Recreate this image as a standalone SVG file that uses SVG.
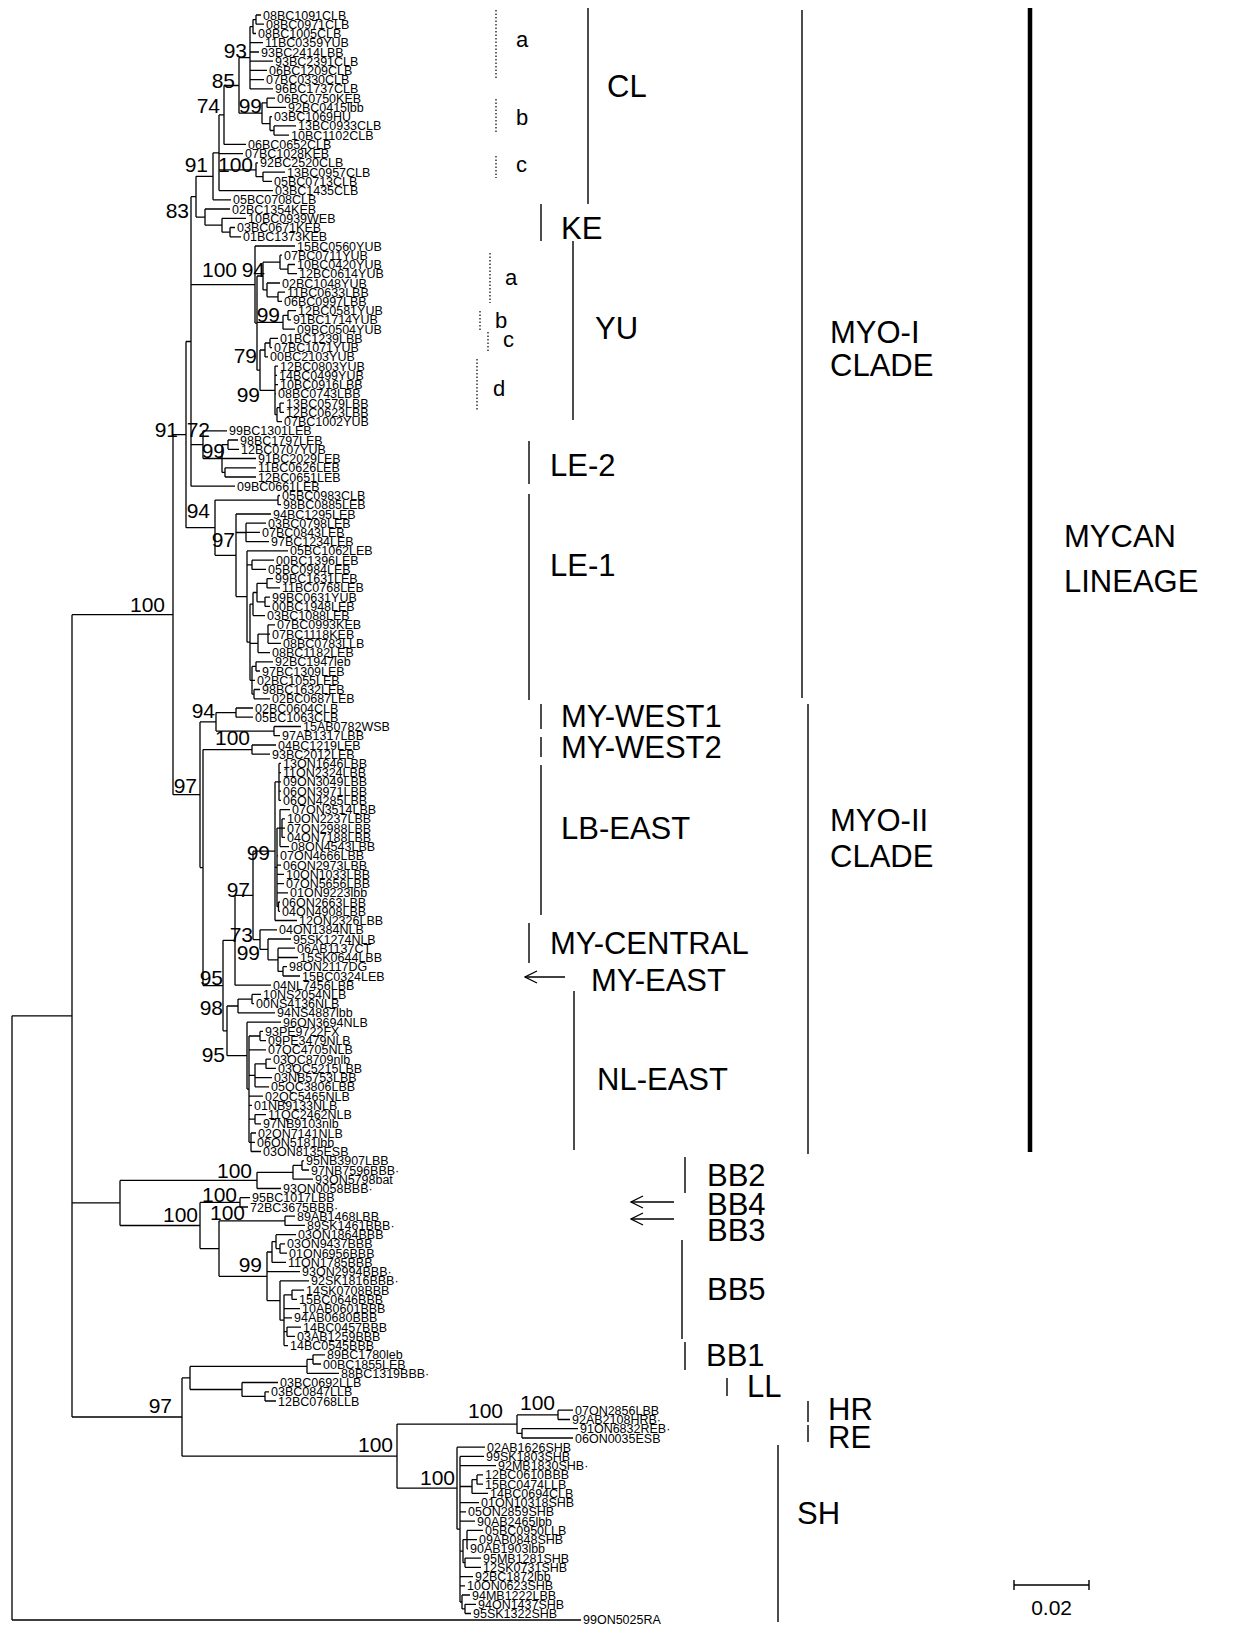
<svg xmlns="http://www.w3.org/2000/svg" width="1243" height="1627" viewBox="0 0 1243 1627">
<style>
.b{fill:none;stroke:#000;stroke-width:1.3}
.l{font-family:"Liberation Sans",Arial,sans-serif;font-size:12.5px;fill:#000}
.s{font-family:"Liberation Sans",Arial,sans-serif;font-size:21px;fill:#000;text-anchor:end}
.c{font-family:"Liberation Sans",Arial,sans-serif;font-size:31px;fill:#000}
.sub{font-family:"Liberation Sans",Arial,sans-serif;font-size:22px;fill:#000}
.bar{stroke:#000;stroke-width:1.4;fill:none}
.dot{stroke:#000;stroke-width:1.2;stroke-dasharray:1.5 2;fill:none}
</style>
<defs>
<marker id="arr" markerWidth="14" markerHeight="14" refX="13" refY="7" orient="auto" markerUnits="userSpaceOnUse">
<path d="M1 1L13 7L1 13" fill="none" stroke="#000" stroke-width="1.3"/>
</marker>
</defs>
<rect width="1243" height="1627" fill="#fff"/>
<g id="connectors">
<path class="b" d="M256 15V24.2M256 15H261M256 24.2H264M253 19.6V33.5M253 19.6H256M253 33.5H256M250 26.6V88.9M250 26.6H253M250 42.7H263M250 52H259M250 61.2H273M250 70.4H267M250 79.7H264M250 88.9H273M267 98.2V107.4M267 98.2H275M267 107.4H286M274 125.9V135.1M274 125.9H296M274 135.1H289M270 116.6V130.5M270 116.6H272M270 130.5H274M262 102.8V123.6M262 102.8H267M262 123.6H270M239 57.7V113.2M239 57.7H250M239 113.2H262M224 85.5V144.4M224 85.5H239M224 144.4H246M263 172.1V181.3M263 172.1H285M263 181.3H272M256 162.8V176.7M256 162.8H258M256 176.7H263M219 114.9V190.6M219 114.9H224M219 153.6H243M219 169.8H256M219 190.6H273M213 152.8V199.8M213 152.8H219M213 199.8H231"/>
<path class="b" d="M230 227.5V236.8M230 227.5H235M230 236.8H241M222 218.3V232.2M222 218.3H246M222 232.2H230M205 209V225.2M205 209H230M205 225.2H222M196 176.3V217.1M196 176.3H213M196 217.1H205"/>
<path class="b" d="M288 264.5V273.7M288 264.5H295M288 273.7H297M280 255.2V269.1M280 255.2H282M280 269.1H288M278 292.2V301.4M278 292.2H285M278 301.4H282M267 283V296.8M267 283H280M267 296.8H278M263 262.2V289.9M263 262.2H280M263 289.9H267M288 310.7V319.9M288 310.7H296M288 319.9H291M283 315.3V329.2M283 315.3H288M283 329.2H295M270 338.4V347.6M270 338.4H278M270 347.6H272M265 343V356.9M265 343H270M265 356.9H268M280 403.1V412.3M280 403.1H284M280 412.3H284M277 407.7V421.6M277 407.7H280M277 421.6H282M275 366.1V414.7M275 366.1H278M275 375.4H277M275 384.6H278M275 393.8H276M275 414.7H277M260 350V390.4M260 350H265M260 390.4H275M257 276V370.2M257 276H263M257 322.3H283M257 370.2H260M255 246V323.1M255 246H295M255 323.1H257"/>
<path class="b" d="M228 440V449.3M228 440H238M228 449.3H239M225 467.8V477M225 467.8H256M225 477H256M222 444.7V472.4M222 444.7H228M222 458.5H256M222 472.4H225M203 430.8V458.5M203 430.8H227M203 458.5H222M191 196.7V486.2M191 196.7H196M191 284.6H255M191 444.7H203M191 486.2H235"/>
<path class="b" d="M278 495.5V504.7M278 495.5H280M278 504.7H281M246 523.2V541.7M246 523.2H266M246 532.4H260M246 541.7H269M252 560.2V569.4M252 560.2H274M252 569.4H266M267 578.6V587.9M267 578.6H273M267 587.9H280M265 597.1V606.4M265 597.1H270M265 606.4H270M257 583.3V601.8M257 583.3H267M257 601.8H265M253 592.5V615.6M253 592.5H257M253 615.6H265M268 624.8V643.3M268 624.8H275M268 634.1H270M268 643.3H281M258 634.1V652.6M258 634.1H268M258 652.6H270M256 661.8V671M256 661.8H273M256 671H260M254 689.5V698.8M254 689.5H260M254 698.8H270M252 666.4V694.2M252 666.4H256M252 680.3H255M252 694.2H254M250 604.1V680.3M250 604.1H253M250 643.3H258M250 680.3H252M247 550.9V642.2M247 550.9H288M247 564.8H252M247 642.2H250M236 514V596.6M236 514H271M236 532.5H246M236 596.6H247M215 500.1V555.3M215 500.1H278M215 555.3H236M186 341.5V527.7M186 341.5H191M186 527.7H215"/>
<path class="b" d="M236 708V717.2M236 708H253M236 717.2H253M274 726.5V735.7M274 726.5H301M274 735.7H280M216 712.6V731.1M216 712.6H236M216 731.1H274M252 745V754.2M252 745H276M252 754.2H270"/>
<path class="b" d="M279 763.4V800.4M279 763.4H281M279 772.7H281M279 781.9H281M279 791.2H281M279 800.4H281M282 818.9V837.4M282 818.9H285M282 828.1H285M282 837.4H285M280 809.6V846.6M280 809.6H290M280 828.1H282M280 846.6H289M278.5 902V911.3M278.5 902H280M278.5 911.3H280M277 828.1V906.7M277 828.1H280M277 855.8H278M277 865.1H281M277 874.3H284M277 883.6H284M277 892.8H288M277 906.7H278.5M275 781.9V920.5M275 781.9H279M275 867.4H277M275 920.5H297"/>
<path class="b" d="M283 966.7V976M283 966.7H287M283 976H300M278 948.2V971.4M278 948.2H295M278 957.5H298M278 971.4H283M268 939V959.8M268 939H291M268 959.8H278M260 929.8V949.4M260 929.8H277M260 949.4H268M253 851.2V939.6M253 851.2H275M253 939.6H260M235 895.4V985.2M235 895.4H253M235 985.2H271"/>
<path class="b" d="M252 994.4V1003.7M252 994.4H261M252 1003.7H254M238 999.1V1012.9M238 999.1H252M238 1012.9H275M260 1031.4V1040.6M260 1031.4H263M260 1040.6H266M266 1059.1V1068.4M266 1059.1H271M266 1068.4H276M255 1063.8V1086.8M255 1063.8H266M255 1077.6H272M255 1086.8H269M255 1114.6V1123.8M255 1114.6H266M255 1123.8H261M251 1133V1151.5M251 1133H256M251 1142.3H255M251 1151.5H261M249 1036V1142.3M249 1036H260M249 1049.9H266M249 1075.3H255M249 1096.1H263M249 1105.3H252M249 1119.2H255M249 1142.3H251M247 1022.2V1089.1M247 1022.2H281M247 1089.1H249M227 1006V1055.7M227 1006H238M227 1055.7H247M223 940.3V1030.8M223 940.3H235M223 1030.8H227M203 749.6V985.6M203 749.6H252M203 985.6H223M200 721.9V867.6M200 721.9H216M200 867.6H203M173 434.6V794.7M173 434.6H186M173 794.7H200"/>
<path class="b" d="M302 1160.8V1170M302 1160.8H304M302 1170H309M293 1165.4V1179.2M293 1165.4H302M293 1179.2H313M257 1172.3V1188.5M257 1172.3H293M257 1188.5H281M240 1197.7V1207M240 1197.7H250M240 1207H248M285 1216.2V1225.4M285 1216.2H295M285 1225.4H305M280 1243.9V1253.2M280 1243.9H285M280 1253.2H287M276 1234.7V1248.6M276 1234.7H296M276 1248.6H280M272 1241.6V1262.4M272 1241.6H276M272 1262.4H286M292 1290.1V1299.4M292 1290.1H304M292 1299.4H297M287 1327.1V1336.3M287 1327.1H301M287 1336.3H295M284 1294.8V1345.6M284 1294.8H292M284 1308.6H300M284 1317.8H292M284 1331.7H287M284 1345.6H288M280 1280.9V1320.2M280 1280.9H309M280 1320.2H284M267 1252V1300.6M267 1252H272M267 1271.6H300M267 1300.6H280M219 1220.8V1276.3M219 1220.8H285M219 1276.3H267M200 1202.4V1248.6M200 1202.4H240M200 1248.6H219M120 1180.4V1225.5M120 1180.4H257M120 1225.5H200"/>
<path class="b" d="M313 1354.8V1364M313 1354.8H325M313 1364H321M307 1359.4V1373.3M307 1359.4H313M307 1373.3H339M265 1391.8V1401M265 1391.8H269M265 1401H276M242 1382.5V1396.4M242 1382.5H278M242 1396.4H265M190 1366.4V1389.5M190 1366.4H307M190 1389.5H242M558 1410.2V1419.5M558 1410.2H573M558 1419.5H570M522 1428.7V1438M522 1428.7H578M522 1438H573M517 1414.9V1433.4M517 1414.9H558M517 1433.4H522"/>
<path class="b" d="M477 1474.9V1484.2M477 1474.9H483M477 1484.2H483M472 1479.6V1493.4M472 1479.6H477M472 1493.4H488M467 1530.4V1548.8M467 1530.4H483M467 1539.6H477M467 1548.8H468M465 1558.1V1567.3M465 1558.1H481M465 1567.3H481M463 1539.6V1562.7M463 1539.6H467M463 1562.7H465M465 1604.3V1613.5M465 1604.3H476M465 1613.5H471M462 1595V1608.9M462 1595H470M462 1608.9H465M460 1456.4V1602M460 1456.4H484M460 1465.7H496M460 1486.5H472M460 1502.6H479M460 1511.9H466M460 1521.1H475M460 1551.2H463M460 1576.6H473M460 1585.8H465M460 1602H462M457 1447.2V1529.2M457 1447.2H485M457 1529.2H460M397 1424.1V1488.2M397 1424.1H517M397 1488.2H457M182 1377.9V1456.2M182 1377.9H190M182 1456.2H397"/>
<path class="b" d="M72 614.7V1417M72 614.7H173M72 1202.9H120M72 1417H182M12 1015.8V1620M12 1015.8H72M12 1620H581"/>
</g>
<g id="bootstrap">
<text class="s" x="247" y="58">93</text><text class="s" x="235" y="88">85</text><text class="s" x="220" y="113">74</text><text class="s" x="262" y="113">99</text>
<text class="s" x="208" y="172">91</text><text class="s" x="253" y="172">100</text><text class="s" x="189" y="218">83</text>
<text class="s" x="237" y="277">100</text><text class="s" x="265" y="277">94</text><text class="s" x="280" y="322">99</text><text class="s" x="257" y="363">79</text><text class="s" x="260" y="402">99</text>
<text class="s" x="178" y="437">91</text><text class="s" x="210" y="437">72</text><text class="s" x="225" y="458">99</text><text class="s" x="210" y="518">94</text><text class="s" x="235" y="547">97</text>
<text class="s" x="165" y="612">100</text><text class="s" x="215" y="718">94</text><text class="s" x="250" y="745">100</text><text class="s" x="197" y="793">97</text>
<text class="s" x="270" y="860">99</text><text class="s" x="250" y="897">97</text><text class="s" x="253" y="942">73</text><text class="s" x="260" y="960">99</text>
<text class="s" x="223" y="985">95</text><text class="s" x="223" y="1015">98</text><text class="s" x="225" y="1062">95</text>
<text class="s" x="252" y="1178">100</text><text class="s" x="237" y="1202">100</text><text class="s" x="198" y="1222">100</text><text class="s" x="245" y="1220">100</text><text class="s" x="262" y="1272">99</text>
<text class="s" x="172" y="1413">97</text><text class="s" x="503" y="1418">100</text><text class="s" x="555" y="1410">100</text><text class="s" x="393" y="1452">100</text><text class="s" x="455" y="1485">100</text>
</g>
<g id="leaves-CL">
<text class="l" x="263" y="19.5">08BC1091CLB</text><text class="l" x="266" y="28.7">08BC0971CLB</text><text class="l" x="258" y="38">08BC1005CLB</text><text class="l" x="265" y="47.2">11BC0359YUB</text><text class="l" x="261" y="56.5">93BC2414LBB</text><text class="l" x="275" y="65.7">93BC2391CLB</text><text class="l" x="269" y="74.9">06BC1209CLB</text><text class="l" x="266" y="84.2">07BC0330CLB</text><text class="l" x="275" y="93.4">96BC1737CLB</text><text class="l" x="277" y="102.7">06BC0750KEB</text><text class="l" x="288" y="111.9">92BC0415lbb</text><text class="l" x="274" y="121.1">03BC1069HU</text><text class="l" x="298" y="130.4">13BC0933CLB</text><text class="l" x="291" y="139.6">10BC1102CLB</text><text class="l" x="248" y="148.9">06BC0652CLB</text><text class="l" x="245" y="158.1">07BC1028KEB</text><text class="l" x="260" y="167.3">92BC2520CLB</text><text class="l" x="287" y="176.6">13BC0957CLB</text><text class="l" x="274" y="185.8">05BC0713CLB</text><text class="l" x="275" y="195.1">03BC1435CLB</text><text class="l" x="233" y="204.3">05BC0708CLB</text>
</g>
<g id="leaves-KE">
<text class="l" x="232" y="213.5">02BC1354KEB</text><text class="l" x="248" y="222.8">10BC0939WEB</text><text class="l" x="237" y="232">03BC0671KEB</text><text class="l" x="243" y="241.3">01BC1373KEB</text>
</g>
<g id="leaves-YU">
<text class="l" x="297" y="250.5">15BC0560YUB</text><text class="l" x="284" y="259.7">07BC0711YUB</text><text class="l" x="297" y="269">10BC0420YUB</text><text class="l" x="299" y="278.2">12BC0614YUB</text><text class="l" x="282" y="287.5">02BC1048YUB</text><text class="l" x="287" y="296.7">11BC0633LBB</text><text class="l" x="284" y="305.9">06BC0997LBB</text><text class="l" x="298" y="315.2">12BC0581YUB</text><text class="l" x="293" y="324.4">91BC1714YUB</text><text class="l" x="297" y="333.7">09BC0504YUB</text><text class="l" x="280" y="342.9">01BC1239LBB</text><text class="l" x="274" y="352.1">07BC1071YUB</text><text class="l" x="270" y="361.4">00BC2103YUB</text><text class="l" x="280" y="370.6">12BC0803YUB</text><text class="l" x="279" y="379.9">14BC0499YUB</text><text class="l" x="280" y="389.1">10BC0916LBB</text><text class="l" x="278" y="398.3">08BC0743LBB</text><text class="l" x="286" y="407.6">13BC0579LBB</text><text class="l" x="286" y="416.8">12BC0623LBB</text><text class="l" x="284" y="426.1">07BC1002YUB</text>
</g>
<g id="leaves-LE">
<text class="l" x="229" y="435.3">99BC1301LEB</text><text class="l" x="240" y="444.5">98BC1797LEB</text><text class="l" x="241" y="453.8">12BC0707YUB</text><text class="l" x="258" y="463">91BC2029LEB</text><text class="l" x="258" y="472.3">11BC0626LEB</text><text class="l" x="258" y="481.5">12BC0651LEB</text><text class="l" x="237" y="490.7">09BC0661LEB</text><text class="l" x="282" y="500">05BC0983CLB</text><text class="l" x="283" y="509.2">98BC0885LEB</text><text class="l" x="273" y="518.5">94BC1295LEB</text><text class="l" x="268" y="527.7">03BC0798LEB</text><text class="l" x="262" y="536.9">07BC0843LEB</text><text class="l" x="271" y="546.2">97BC1234LEB</text><text class="l" x="290" y="555.4">05BC1062LEB</text><text class="l" x="276" y="564.7">00BC1396LEB</text><text class="l" x="268" y="573.9">05BC0984LEB</text><text class="l" x="275" y="583.1">99BC1631LEB</text><text class="l" x="282" y="592.4">11BC0768LEB</text><text class="l" x="272" y="601.6">99BC0631YUB</text><text class="l" x="272" y="610.9">00BC1948LEB</text><text class="l" x="267" y="620.1">03BC1088LEB</text><text class="l" x="277" y="629.3">07BC0993KEB</text><text class="l" x="272" y="638.6">07BC1118KEB</text><text class="l" x="283" y="647.8">08BC0783LLB</text><text class="l" x="272" y="657.1">08BC1182LEB</text><text class="l" x="275" y="666.3">92BC1947leb</text><text class="l" x="262" y="675.5">97BC1309LEB</text><text class="l" x="257" y="684.8">02BC1055LEB</text><text class="l" x="262" y="694">98BC1632LEB</text><text class="l" x="272" y="703.3">02BC0687LEB</text>
</g>
<g id="leaves-MY">
<text class="l" x="255" y="712.5">02BC0604CLB</text><text class="l" x="255" y="721.7">05BC1063CLB</text><text class="l" x="303" y="731">15AB0782WSB</text><text class="l" x="282" y="740.2">97AB1317LBB</text><text class="l" x="278" y="749.5">04BC1219LEB</text><text class="l" x="272" y="758.7">93BC2012LEB</text><text class="l" x="283" y="767.9">13ON1646LBB</text><text class="l" x="283" y="777.2">11ON2324LBB</text><text class="l" x="283" y="786.4">09ON3049LBB</text><text class="l" x="283" y="795.7">06ON3971LBB</text><text class="l" x="283" y="804.9">06ON4285LBB</text><text class="l" x="292" y="814.1">07ON3514LBB</text><text class="l" x="287" y="823.4">10ON2237LBB</text><text class="l" x="287" y="832.6">07ON2988LBB</text><text class="l" x="287" y="841.9">04ON7188LBB</text><text class="l" x="291" y="851.1">08ON4543LBB</text><text class="l" x="280" y="860.3">07ON4666LBB</text><text class="l" x="283" y="869.6">06ON2973LBB</text><text class="l" x="286" y="878.8">10ON1033LBB</text><text class="l" x="286" y="888.1">07ON5656LBB</text><text class="l" x="290" y="897.3">01ON9223lbb</text><text class="l" x="282" y="906.5">06ON2663LBB</text><text class="l" x="282" y="915.8">04ON4908LBB</text><text class="l" x="299" y="925">12ON2326LBB</text><text class="l" x="279" y="934.3">04ON1384NLB</text><text class="l" x="293" y="943.5">95SK1274NLB</text><text class="l" x="297" y="952.7">06AB1137CT</text><text class="l" x="300" y="962">15SK0644LBB</text><text class="l" x="289" y="971.2">98ON2117DG</text><text class="l" x="302" y="980.5">15BC0324LEB</text><text class="l" x="273" y="989.7">04NL7456LBB</text>
</g>
<g id="leaves-NL">
<text class="l" x="263" y="998.9">10NS2054NLB</text><text class="l" x="256" y="1008.2">00NS4136NLB</text><text class="l" x="277" y="1017.4">94NS4887lbb</text><text class="l" x="283" y="1026.7">96ON3694NLB</text><text class="l" x="265" y="1035.9">93PE9722FX</text><text class="l" x="268" y="1045.1">09PE3479NLB</text><text class="l" x="268" y="1054.4">07QC4705NLB</text><text class="l" x="273" y="1063.6">03QC8709nlb</text><text class="l" x="278" y="1072.9">03QC5215LBB</text><text class="l" x="274" y="1082.1">03NB5753LBB</text><text class="l" x="271" y="1091.3">05QC3806LBB</text><text class="l" x="265" y="1100.6">02QC5465NLB</text><text class="l" x="254" y="1109.8">01NB9133NLB</text><text class="l" x="268" y="1119.1">11QC2462NLB</text><text class="l" x="263" y="1128.3">97NB9103nlb</text><text class="l" x="258" y="1137.5">02ON7141NLB</text><text class="l" x="257" y="1146.8">06ON5181lbb</text><text class="l" x="263" y="1156">03ON8135ESB</text>
</g>
<g id="leaves-BB">
<text class="l" x="306" y="1165.3">95NB3907LBB</text><text class="l" x="311" y="1174.5">97NB7596BBB·</text><text class="l" x="315" y="1183.7">93ON5798bat</text><text class="l" x="283" y="1193">93ON0058BBB·</text><text class="l" x="252" y="1202.2">95BC1017LBB</text><text class="l" x="250" y="1211.5">72BC3675BBB·</text><text class="l" x="297" y="1220.7">89AB1468LBB</text><text class="l" x="307" y="1229.9">89SK1461BBB·</text><text class="l" x="298" y="1239.2">03ON1864BBB</text><text class="l" x="287" y="1248.4">03ON9437BBB</text><text class="l" x="289" y="1257.7">01ON6956BBB</text><text class="l" x="288" y="1266.9">11ON1785BBB</text><text class="l" x="302" y="1276.1">93ON2994BBB·</text><text class="l" x="311" y="1285.4">92SK1816BBB·</text><text class="l" x="306" y="1294.6">14SK0708BBB</text><text class="l" x="299" y="1303.9">15BC0646BBB</text><text class="l" x="302" y="1313.1">10AB0601BBB</text><text class="l" x="294" y="1322.3">94AB0680BBB</text><text class="l" x="303" y="1331.6">14BC0457BBB</text><text class="l" x="297" y="1340.8">03AB1259BBB</text><text class="l" x="290" y="1350.1">14BC0545BBB</text><text class="l" x="327" y="1359.3">89BC1780leb</text><text class="l" x="323" y="1368.5">00BC1855LEB</text><text class="l" x="341" y="1377.8">88BC1319BBB·</text>
</g>
<g id="leaves-LL-HR-RE">
<text class="l" x="280" y="1387">03BC0692LLB</text><text class="l" x="271" y="1396.3">03BC0847LLB</text><text class="l" x="278" y="1405.5">12BC0768LLB</text><text class="l" x="575" y="1414.7">07ON2856LBB</text><text class="l" x="572" y="1424">92AB2108HRB·</text><text class="l" x="580" y="1433.2">91ON6832REB·</text><text class="l" x="575" y="1442.5">06ON0035ESB</text>
</g>
<g id="leaves-SH">
<text class="l" x="487" y="1451.7">02AB1626SHB</text><text class="l" x="486" y="1460.9">99SK1803SHB</text><text class="l" x="498" y="1470.2">92MB1830SHB·</text><text class="l" x="485" y="1479.4">12BC0610BBB</text><text class="l" x="485" y="1488.7">15BC0474LLB</text><text class="l" x="490" y="1497.9">14BC0694CLB</text><text class="l" x="481" y="1507.1">01ON10318SHB</text><text class="l" x="468" y="1516.4">05ON2859SHB</text><text class="l" x="477" y="1525.6">90AB2465lbb</text><text class="l" x="485" y="1534.9">05BC0950LLB</text><text class="l" x="479" y="1544.1">09AB0848SHB</text><text class="l" x="470" y="1553.3">90AB1903lbb</text><text class="l" x="483" y="1562.6">95MB1281SHB</text><text class="l" x="483" y="1571.8">12SK0731SHB</text><text class="l" x="475" y="1581.1">92BC1872lbb</text><text class="l" x="467" y="1590.3">10ON0623SHB</text><text class="l" x="472" y="1599.5">94MB1222LBB</text><text class="l" x="478" y="1608.8">94ON1437SHB</text><text class="l" x="473" y="1618">95SK1322SHB</text>
</g>
<g id="leaf-outgroup"><text class="l" x="583" y="1624">99ON5025RA</text></g>
<g id="clade-CL"><path class="dot" d="M496 10V78M496 99V132M496 156V178"/><text class="sub" x="516" y="47">a</text><text class="sub" x="516" y="125">b</text><text class="sub" x="516" y="172">c</text><path class="bar" d="M588 8V204"/><text class="c" x="607" y="97">CL</text></g>
<g id="clade-KE"><path class="bar" d="M541 204V241"/><text class="c" x="561" y="239">KE</text></g>
<g id="clade-YU"><path class="dot" d="M490 253V303M480 311V330M488 332V353M477 359V411"/><text class="sub" x="505" y="285">a</text><text class="sub" x="495" y="328">b</text><text class="sub" x="503" y="347">c</text><text class="sub" x="493" y="396">d</text><path class="bar" d="M573 241V420"/><text class="c" x="595" y="339">YU</text></g>
<g id="clade-LE2"><path class="bar" d="M529 441V484"/><text class="c" x="550" y="476">LE-2</text></g>
<g id="clade-LE1"><path class="bar" d="M529 494V700"/><text class="c" x="550" y="576">LE-1</text></g>
<g id="clade-MYWEST1"><path class="bar" d="M541 704V729"/><text class="c" x="561" y="727">MY-WEST1</text></g>
<g id="clade-MYWEST2"><path class="bar" d="M541 737V757"/><text class="c" x="561" y="758">MY-WEST2</text></g>
<g id="clade-LBEAST"><path class="bar" d="M541 765V915"/><text class="c" x="561" y="839">LB-EAST</text></g>
<g id="clade-MYCENTRAL"><path class="bar" d="M529 923V963"/><text class="c" x="550" y="954">MY-CENTRAL</text></g>
<g id="clade-MYEAST"><path class="bar" d="M565 977H525" marker-end="url(#arr)"/><text class="c" x="591" y="991">MY-EAST</text></g>
<g id="clade-NLEAST"><path class="bar" d="M574 991V1150"/><text class="c" x="597" y="1090">NL-EAST</text></g>
<g id="clade-MYOI"><path class="bar" d="M802 10V698"/><text class="c" x="830" y="343">MYO-I</text><text class="c" x="830" y="376">CLADE</text></g>
<g id="clade-MYOII"><path class="bar" d="M808 704V1154"/><text class="c" x="830" y="831">MYO-II</text><text class="c" x="830" y="867">CLADE</text></g>
<g id="lineage-MYCAN"><path d="M1030 8V1152" stroke="#000" stroke-width="4.5" fill="none"/><text class="c" x="1064" y="547">MYCAN</text><text class="c" x="1064" y="592">LINEAGE</text></g>
<g id="clade-BB2"><path class="bar" d="M685 1157V1193"/><text class="c" x="707" y="1186">BB2</text></g>
<g id="clade-BB4"><path class="bar" d="M674 1202H631" marker-end="url(#arr)"/><text class="c" x="707" y="1215">BB4</text></g>
<g id="clade-BB3"><path class="bar" d="M674 1219H631" marker-end="url(#arr)"/><text class="c" x="707" y="1241">BB3</text></g>
<g id="clade-BB5"><path class="bar" d="M682 1240V1339"/><text class="c" x="707" y="1300">BB5</text></g>
<g id="clade-BB1"><path class="bar" d="M685 1342V1370"/><text class="c" x="706" y="1366">BB1</text></g>
<g id="clade-LL"><path class="bar" d="M727 1378V1396"/><text class="c" x="747" y="1397">LL</text></g>
<g id="clade-HR"><path class="bar" d="M808 1401V1422"/><text class="c" x="828" y="1420">HR</text></g>
<g id="clade-RE"><path class="bar" d="M808 1425V1442"/><text class="c" x="828" y="1448">RE</text></g>
<g id="clade-SH"><path class="bar" d="M778 1445V1622"/><text class="c" x="797" y="1524">SH</text></g>
<g id="scale-bar"><path class="bar" d="M1014 1585H1089M1014 1580V1590M1089 1580V1590"/><text class="s" x="1072" y="1615">0.02</text></g>
</svg>
